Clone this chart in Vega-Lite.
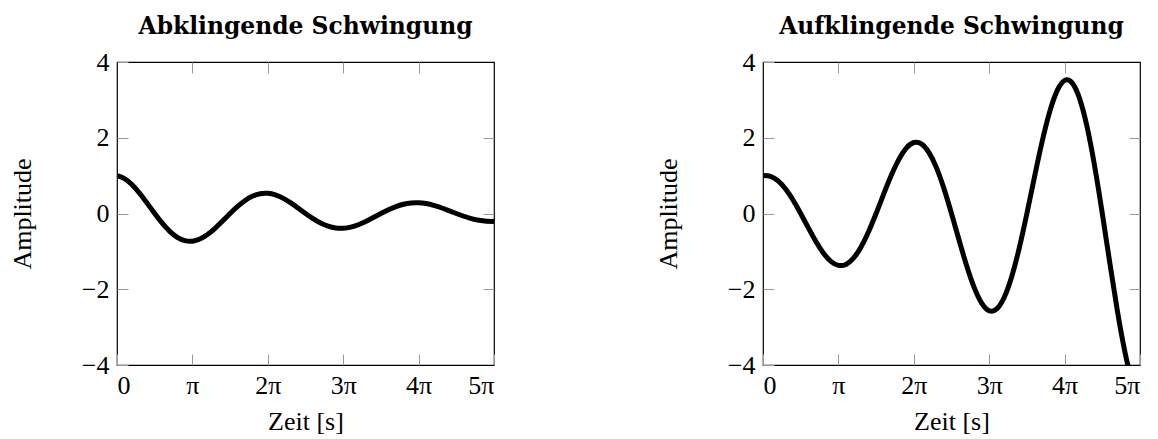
{
  "$schema": "https://vega.github.io/schema/vega-lite/v6.json",
  "padding": {"left": 8, "top": 14, "right": 5, "bottom": 0},
  "background": "white",
  "config": {
    "font": "Liberation Serif",
    "view": {"stroke": "black", "strokeWidth": 1.2},
    "title": {"font": "DejaVu Serif", "fontSize": 23.4, "fontWeight": "bold", "color": "black", "offset": 10},
    "axis": {
      "labelFont": "Liberation Serif", "labelFontSize": 26, "labelColor": "black",
      "titleFont": "Liberation Serif", "titleFontSize": 26, "titleColor": "black", "titleFontWeight": "normal",
      "domain": false, "grid": false, "tickWidth": 1, "tickSize": -11, "tickColor": "#999999"
    }
  },
  "datasets": {
    "abkl": [
      {"t":0,"y":1.0},{"t":0.1,"y":0.9217},{"t":0.2,"y":0.7597},{"t":0.3,"y":0.5349},{"t":0.4,"y":0.2725},{"t":0.5,"y":0},
      {"t":0.6,"y":-0.2559},{"t":0.7,"y":-0.4718},{"t":0.8,"y":-0.6292},{"t":0.9,"y":-0.7168},{"t":1.0,"y":-0.7304},
      {"t":1.1,"y":-0.6732},{"t":1.2,"y":-0.5549},{"t":1.3,"y":-0.3907},{"t":1.4,"y":-0.1991},{"t":1.5,"y":0},
      {"t":1.6,"y":0.1869},{"t":1.7,"y":0.3446},{"t":1.8,"y":0.4596},{"t":1.9,"y":0.5236},{"t":2.0,"y":0.5335},
      {"t":2.1,"y":0.4917},{"t":2.2,"y":0.4053},{"t":2.3,"y":0.2854},{"t":2.4,"y":0.1454},{"t":2.5,"y":0},
      {"t":2.6,"y":-0.1365},{"t":2.7,"y":-0.2517},{"t":2.8,"y":-0.3357},{"t":2.9,"y":-0.3824},{"t":3.0,"y":-0.3897},
      {"t":3.1,"y":-0.3591},{"t":3.2,"y":-0.2960},{"t":3.3,"y":-0.2084},{"t":3.4,"y":-0.1062},{"t":3.5,"y":0},
      {"t":3.6,"y":0.0997},{"t":3.7,"y":0.1838},{"t":3.8,"y":0.2452},{"t":3.9,"y":0.2793},{"t":4.0,"y":0.2846},
      {"t":4.1,"y":0.2623},{"t":4.2,"y":0.2162},{"t":4.3,"y":0.1522},{"t":4.4,"y":0.0776},{"t":4.5,"y":0},
      {"t":4.6,"y":-0.0728},{"t":4.7,"y":-0.1343},{"t":4.8,"y":-0.1791},{"t":4.9,"y":-0.2040},{"t":5.0,"y":-0.2079}
    ],
    "aufkl": [
      {"t":0,"y":1.0},{"t":0.1,"y":0.9814},{"t":0.2,"y":0.8615},{"t":0.3,"y":0.6459},{"t":0.4,"y":0.3504},{"t":0.5,"y":0},
      {"t":0.6,"y":-0.3731},{"t":0.7,"y":-0.7324},{"t":0.8,"y":-1.0402},{"t":0.9,"y":-1.2618},{"t":1.0,"y":-1.3691},
      {"t":1.1,"y":-1.3437},{"t":1.2,"y":-1.1795},{"t":1.3,"y":-0.8843},{"t":1.4,"y":-0.4798},{"t":1.5,"y":0},
      {"t":1.6,"y":0.5108},{"t":1.7,"y":1.0027},{"t":1.8,"y":1.4241},{"t":1.9,"y":1.7276},{"t":2.0,"y":1.8745},
      {"t":2.1,"y":1.8396},{"t":2.2,"y":1.6148},{"t":2.3,"y":1.2107},{"t":2.4,"y":0.6568},{"t":2.5,"y":0},
      {"t":2.6,"y":-0.6994},{"t":2.7,"y":-1.3728},{"t":2.8,"y":-1.9498},{"t":2.9,"y":-2.3653},{"t":3.0,"y":-2.5663},
      {"t":3.1,"y":-2.5186},{"t":3.2,"y":-2.2109},{"t":3.3,"y":-1.6576},{"t":3.4,"y":-0.8993},{"t":3.5,"y":0},
      {"t":3.6,"y":0.9575},{"t":3.7,"y":1.8795},{"t":3.8,"y":2.6694},{"t":3.9,"y":3.2383},{"t":4.0,"y":3.5136},
      {"t":4.1,"y":3.4483},{"t":4.2,"y":3.0269},{"t":4.3,"y":2.2694},{"t":4.4,"y":1.2312},{"t":4.5,"y":0},
      {"t":4.6,"y":-1.3110},{"t":4.7,"y":-2.5732},{"t":4.8,"y":-3.6547},{"t":4.9,"y":-4.4335},{"t":5.0,"y":-4.8104}
    ]
  },
  "hconcat": [
    {
      "width": 377, "height": 303,
      "title": "Abklingende Schwingung",
      "data": {"name": "abkl"},
      "layer": [
        {
          "mark": {"type": "line", "color": "black", "strokeWidth": 5, "interpolate": "natural", "clip": true},
          "encoding": {
            "x": {"field": "t", "type": "quantitative", "scale": {"domain": [0, 5], "nice": false, "zero": false},
                  "axis": {"orient": "bottom", "values": [0,1,2,3,4,5], "title": "Zeit [s]", "labelPadding": 18, "titlePadding": 10,
                           "labelExpr": "datum.value == 0 ? '0' : (datum.value == 1 ? 'π' : datum.value + 'π')"}},
            "y": {"field": "y", "type": "quantitative", "scale": {"domain": [-4, 4], "nice": false},
                  "axis": {"orient": "left", "values": [-4,-2,0,2,4], "title": "Amplitude", "labelPadding": 19, "titlePadding": 46}}
          }
        },
        {
          "mark": {"type": "line", "opacity": 0, "clip": true},
          "encoding": {
            "x": {"field": "t", "type": "quantitative", "axis": {"orient": "top", "values": [1,2,3,4], "labels": false, "title": null}},
            "y": {"field": "y", "type": "quantitative", "axis": {"orient": "right", "values": [-2,0,2], "labels": false, "title": null}}
          }
        }
      ],
      "resolve": {"axis": {"x": "independent", "y": "independent"}}
    },
    {
      "width": 377, "height": 303,
      "title": "Aufklingende Schwingung",
      "data": {"name": "aufkl"},
      "layer": [
        {
          "mark": {"type": "line", "color": "black", "strokeWidth": 5, "interpolate": "natural", "clip": true},
          "encoding": {
            "x": {"field": "t", "type": "quantitative", "scale": {"domain": [0, 5], "nice": false, "zero": false},
                  "axis": {"orient": "bottom", "values": [0,1,2,3,4,5], "title": "Zeit [s]", "labelPadding": 18, "titlePadding": 10,
                           "labelExpr": "datum.value == 0 ? '0' : (datum.value == 1 ? 'π' : datum.value + 'π')"}},
            "y": {"field": "y", "type": "quantitative", "scale": {"domain": [-4, 4], "nice": false},
                  "axis": {"orient": "left", "values": [-4,-2,0,2,4], "title": "Amplitude", "labelPadding": 19, "titlePadding": 46}}
          }
        },
        {
          "mark": {"type": "line", "opacity": 0, "clip": true},
          "encoding": {
            "x": {"field": "t", "type": "quantitative", "axis": {"orient": "top", "values": [1,2,3,4], "labels": false, "title": null}},
            "y": {"field": "y", "type": "quantitative", "axis": {"orient": "right", "values": [-2,0,2], "labels": false, "title": null}}
          }
        }
      ],
      "resolve": {"axis": {"x": "independent", "y": "independent"}}
    }
  ],
  "spacing": 158
}
